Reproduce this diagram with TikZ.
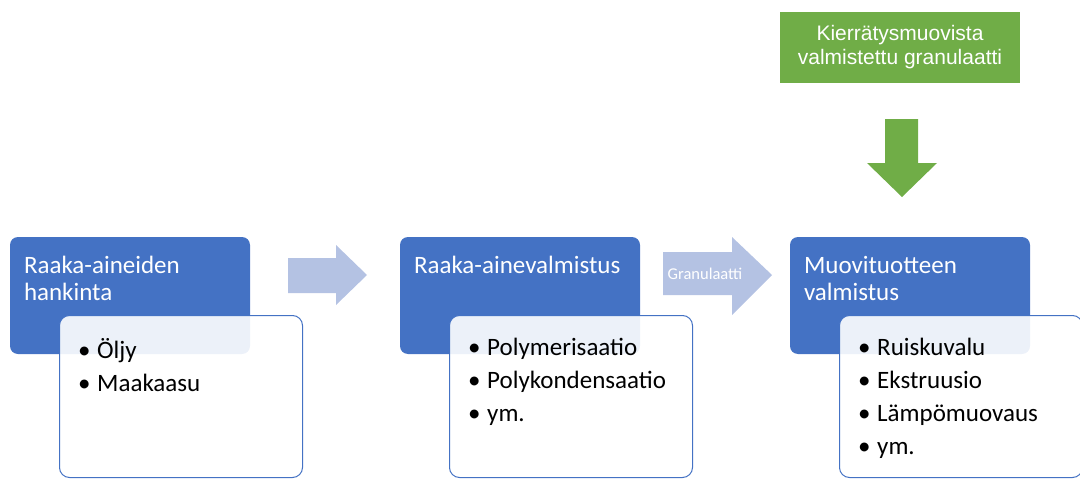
\documentclass[tikz,border=0pt]{standalone}
\usepackage{fontspec}
\setmainfont{Carlito}
\newfontfamily\arialfont{Liberation Sans}
\usetikzlibrary{positioning}

\definecolor{headblue}{HTML}{4472C4}
\definecolor{arrowblue}{HTML}{B4C2E3}
\definecolor{recgreen}{HTML}{70AD47}

\newcommand{\bul}{\makebox[19pt][l]{\textbullet}}

\tikzset{
	stagebox/.style={fill=headblue, rounded corners=8pt, minimum width=240pt, minimum height=117pt, inner sep=0pt},
	listbox/.style={draw=headblue, line width=1pt, fill=white, fill opacity=0.9, rounded corners=10pt, minimum width=243pt, minimum height=162pt, inner sep=0pt},
	headtext/.style={text=white, font=\fontsize{25}{27}\selectfont, align=left, inner sep=0pt, anchor=north west},
	listtext/.style={text=black, font=\fontsize{25}{33}\selectfont, align=left, inner sep=0pt, anchor=north west},
	blockarrow/.style={fill=arrowblue},
}

\begin{document}
\begin{tikzpicture}[x=1pt,y=-1pt]
	\useasboundingbox (0,0) rectangle (1080,479);
	\foreach \n/\x/\title/\items in {
		1/130/{Raaka-aineiden\\hankinta}/{\bul Öljy\\\bul Maakaasu},
		2/520/{Raaka-ainevalmistus}/{\bul Polymerisaatio\\\bul Polykondensaatio\\\bul ym.},
		3/910/{Muovituotteen\\valmistus}/{\bul Ruiskuvalu\\\bul Ekstruusio\\\bul Lämpömuovaus\\\bul ym.}}
	{
		\node[stagebox] (h\n) at (\x,295.5) {};
		\node[headtext] (t\n) at ([xshift=14pt,yshift=-19pt]h\n.north west) {\title};
		\node[listbox] (b\n) at (\x+51,396.5) {};
		\node[listtext] (l\n) at ([xshift=19pt,yshift=-23pt]b\n.north west) {\items};
	}
	% block arrows between the stages
	\fill[blockarrow] (288,258) -- (336,258) -- (336,245) -- (367,275) -- (336,305) -- (336,293) -- (288,293) -- cycle;
	\fill[blockarrow] (663,252) -- (732,252) -- (732,237) -- (772,275) -- (732,315) -- (732,295) -- (663,295) -- cycle;
	\node[text=white, font=\fontsize{16.5}{16.5}\selectfont, inner sep=0pt] (gran) at (705,274) {Granulaatti};
	\node[fill=recgreen, minimum width=240pt, minimum height=71pt, inner sep=0pt, text=white, align=center,
		font=\arialfont\fontsize{21}{24}\selectfont] (recycled) at (900,47.5) {Kierrätysmuovista\\valmistettu granulaatti};
	\fill[recgreen] (885,119) -- (918,119) -- (918,163) -- (937,163) -- (902,197) -- (867,163) -- (885,163) -- cycle;
\end{tikzpicture}
\end{document}
